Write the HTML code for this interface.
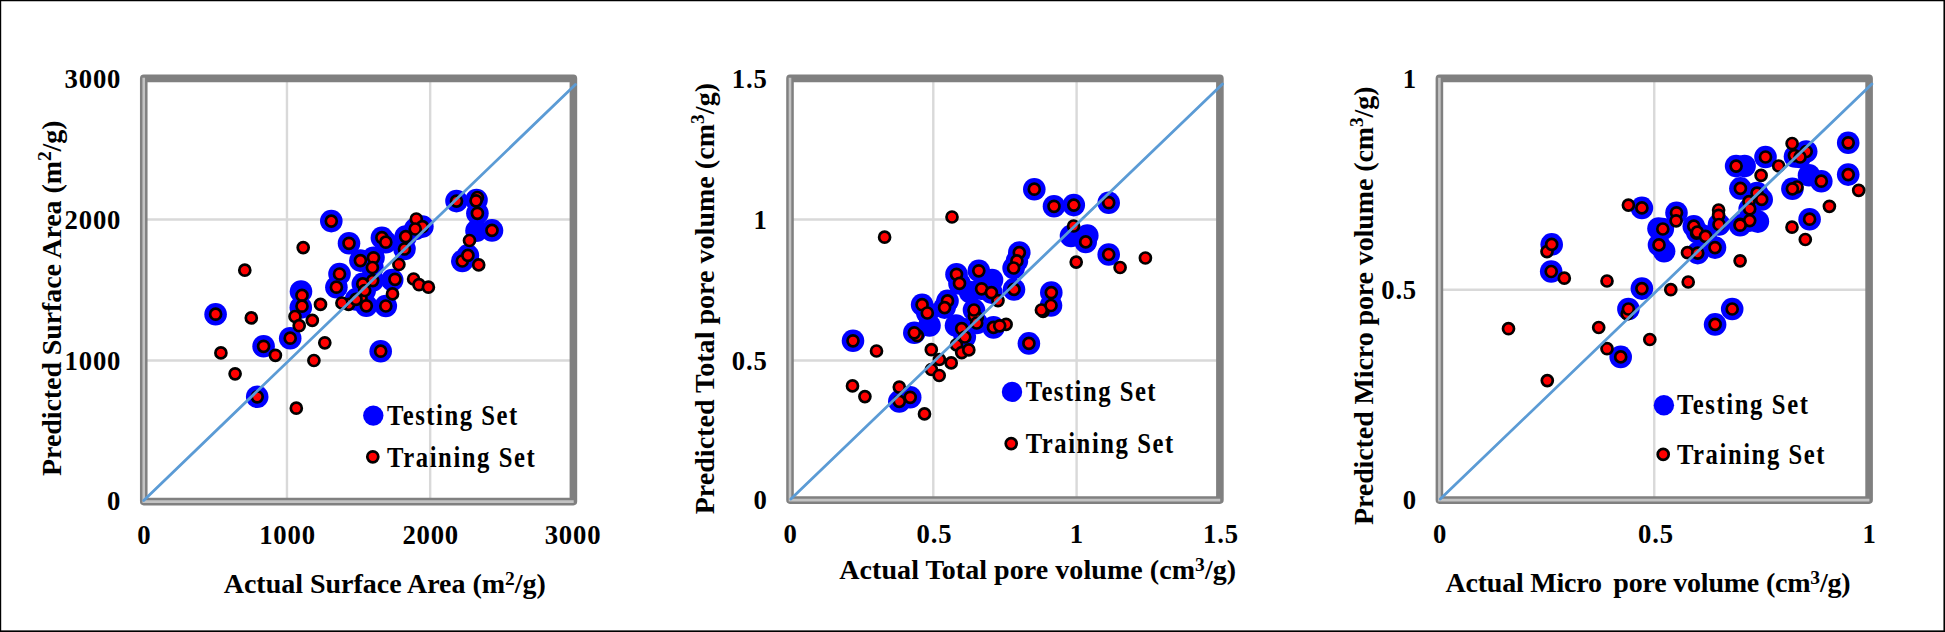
<!DOCTYPE html>
<html><head><meta charset="utf-8"><title>Predicted vs Actual</title>
<style>
html,body{margin:0;padding:0;background:#fff;}
body{width:1945px;height:632px;overflow:hidden;}
svg{display:block;}
text{font-family:"Liberation Serif","Times New Roman",serif;font-weight:bold;fill:#000;white-space:pre;}
.k{font-size:26.7px;letter-spacing:0.8px;}
.t{font-size:28px;}
.l{font-size:29.4px;}
.s{font-size:19.5px;}
.b{fill:#0000ff;}
.r{fill:#ff0000;stroke:#000;stroke-width:2.7;}
.g{stroke:#d9d9d9;stroke-width:2.4;}
</style></head><body>
<svg width="1945" height="632" viewBox="0 0 1945 632">
<rect x="0" y="0" width="1945" height="632" fill="#fff"/>
<g>
<line class="g" x1="286.97" y1="78.40" x2="286.97" y2="501.60"/>
<line class="g" x1="430.18" y1="78.40" x2="430.18" y2="501.60"/>
<line class="g" x1="143.75" y1="360.53" x2="573.40" y2="360.53"/>
<line class="g" x1="143.75" y1="219.47" x2="573.40" y2="219.47"/>
<rect x="143.75" y="78.40" width="429.65" height="423.20" fill="none" stroke="#808080" stroke-width="7.6" stroke-linejoin="round"/>
<path d="M143.75 77.80 V501.60 H573.70" fill="none" stroke="#c3c3c3" stroke-width="2.6"/>
<circle class="b" cx="331.3" cy="221.1" r="11.3"/>
<circle class="b" cx="349.0" cy="243.3" r="11.3"/>
<circle class="b" cx="360.4" cy="260.6" r="11.3"/>
<circle class="b" cx="373.5" cy="257.8" r="11.3"/>
<circle class="b" cx="372.4" cy="267.5" r="11.3"/>
<circle class="b" cx="339.5" cy="274.0" r="11.3"/>
<circle class="b" cx="336.4" cy="287.2" r="11.3"/>
<circle class="b" cx="381.9" cy="237.7" r="11.3"/>
<circle class="b" cx="385.8" cy="242.2" r="11.3"/>
<circle class="b" cx="405.7" cy="236.6" r="11.3"/>
<circle class="b" cx="404.5" cy="249.0" r="11.3"/>
<circle class="b" cx="415.2" cy="229.0" r="11.3"/>
<circle class="b" cx="422.4" cy="226.6" r="11.3"/>
<circle class="b" cx="392.2" cy="280.0" r="11.3"/>
<circle class="b" cx="372.7" cy="280.6" r="11.3"/>
<circle class="b" cx="362.8" cy="283.9" r="11.3"/>
<circle class="b" cx="364.7" cy="290.5" r="11.3"/>
<circle class="b" cx="385.8" cy="306.0" r="11.3"/>
<circle class="b" cx="366.3" cy="305.8" r="11.3"/>
<circle class="b" cx="356.0" cy="299.4" r="11.3"/>
<circle class="b" cx="456.5" cy="201.1" r="11.3"/>
<circle class="b" cx="476.5" cy="200.0" r="11.3"/>
<circle class="b" cx="477.4" cy="213.3" r="11.3"/>
<circle class="b" cx="492.0" cy="230.4" r="11.3"/>
<circle class="b" cx="476.5" cy="230.8" r="11.3"/>
<circle class="b" cx="467.9" cy="255.4" r="11.3"/>
<circle class="b" cx="462.3" cy="261.0" r="11.3"/>
<circle class="b" cx="215.6" cy="314.2" r="11.3"/>
<circle class="b" cx="263.6" cy="346.3" r="11.3"/>
<circle class="b" cx="290.2" cy="338.2" r="11.3"/>
<circle class="b" cx="257.2" cy="396.8" r="11.3"/>
<circle class="b" cx="380.7" cy="351.2" r="11.3"/>
<circle class="b" cx="301.0" cy="291.5" r="11.3"/>
<circle class="b" cx="300.8" cy="307.5" r="11.3"/>
<circle class="r" cx="303.2" cy="247.6" r="5.5"/>
<circle class="r" cx="244.8" cy="270.2" r="5.5"/>
<circle class="r" cx="251.3" cy="317.9" r="5.5"/>
<circle class="r" cx="320.5" cy="304.4" r="5.5"/>
<circle class="r" cx="295.0" cy="316.5" r="5.5"/>
<circle class="r" cx="312.3" cy="320.4" r="5.5"/>
<circle class="r" cx="299.2" cy="325.7" r="5.5"/>
<circle class="r" cx="416.3" cy="219.0" r="5.5"/>
<circle class="r" cx="398.9" cy="264.5" r="5.5"/>
<circle class="r" cx="392.5" cy="293.9" r="5.5"/>
<circle class="r" cx="413.6" cy="279.0" r="5.5"/>
<circle class="r" cx="419.0" cy="284.7" r="5.5"/>
<circle class="r" cx="428.4" cy="287.2" r="5.5"/>
<circle class="r" cx="348.6" cy="304.3" r="5.5"/>
<circle class="r" cx="341.9" cy="303.0" r="5.5"/>
<circle class="r" cx="469.5" cy="240.5" r="5.5"/>
<circle class="r" cx="478.7" cy="264.9" r="5.5"/>
<circle class="r" cx="220.9" cy="352.9" r="5.5"/>
<circle class="r" cx="235.1" cy="373.8" r="5.5"/>
<circle class="r" cx="275.4" cy="355.3" r="5.5"/>
<circle class="r" cx="296.3" cy="408.2" r="5.5"/>
<circle class="r" cx="313.9" cy="360.5" r="5.5"/>
<circle class="r" cx="324.8" cy="342.8" r="5.5"/>
<circle class="r" cx="361.0" cy="298.0" r="5.5"/>
<circle class="r" cx="477.4" cy="197.5" r="5.5"/>
<circle class="r" cx="331.3" cy="221.1" r="5.5"/>
<circle class="r" cx="349.0" cy="243.3" r="5.5"/>
<circle class="r" cx="360.4" cy="260.6" r="5.5"/>
<circle class="r" cx="373.5" cy="257.8" r="5.5"/>
<circle class="r" cx="372.4" cy="267.5" r="5.5"/>
<circle class="r" cx="339.5" cy="274.0" r="5.5"/>
<circle class="r" cx="336.4" cy="287.2" r="5.5"/>
<circle class="r" cx="381.9" cy="237.7" r="5.5"/>
<circle class="r" cx="385.8" cy="242.2" r="5.5"/>
<circle class="r" cx="405.7" cy="236.6" r="5.5"/>
<circle class="r" cx="404.5" cy="249.0" r="5.5"/>
<circle class="r" cx="422.4" cy="226.6" r="5.5"/>
<circle class="r" cx="415.2" cy="229.0" r="5.5"/>
<circle class="r" cx="395.0" cy="279.3" r="5.5"/>
<circle class="r" cx="372.7" cy="280.6" r="5.5"/>
<circle class="r" cx="362.8" cy="283.9" r="5.5"/>
<circle class="r" cx="364.7" cy="290.5" r="5.5"/>
<circle class="r" cx="385.8" cy="306.0" r="5.5"/>
<circle class="r" cx="366.3" cy="305.8" r="5.5"/>
<circle class="r" cx="356.0" cy="299.4" r="5.5"/>
<circle class="r" cx="456.5" cy="201.1" r="5.5"/>
<circle class="r" cx="476.1" cy="200.8" r="5.5"/>
<circle class="r" cx="477.4" cy="213.3" r="5.5"/>
<circle class="r" cx="492.0" cy="230.4" r="5.5"/>
<circle class="r" cx="462.3" cy="261.0" r="5.5"/>
<circle class="r" cx="467.9" cy="255.4" r="5.5"/>
<circle class="r" cx="215.6" cy="314.2" r="5.5"/>
<circle class="r" cx="263.6" cy="346.3" r="5.5"/>
<circle class="r" cx="290.2" cy="338.2" r="5.5"/>
<circle class="r" cx="257.2" cy="396.8" r="5.5"/>
<circle class="r" cx="380.7" cy="351.2" r="5.5"/>
<circle class="r" cx="302.0" cy="295.4" r="5.5"/>
<circle class="r" cx="302.0" cy="306.2" r="5.5"/>
<line x1="143.7" y1="500.4" x2="575.5" y2="84.5" stroke="#5b9bd5" stroke-width="2.8" stroke-linecap="round"/>
<circle class="b" cx="373.3" cy="415.6" r="10.2"/>
<circle class="r" cx="372.8" cy="456.8" r="5.5"/>
<text class="k" x="144.4" y="544.0" text-anchor="middle">0</text>
<text class="k" x="287.5" y="544.0" text-anchor="middle">1000</text>
<text class="k" x="430.7" y="544.0" text-anchor="middle">2000</text>
<text class="k" x="573.0" y="544.0" text-anchor="middle">3000</text>
<text class="k" x="121.2" y="88.1" text-anchor="end">3000</text>
<text class="k" x="121.2" y="228.8" text-anchor="end">2000</text>
<text class="k" x="121.2" y="369.6" text-anchor="end">1000</text>
<text class="k" x="121.2" y="510.4" text-anchor="end">0</text>
<text class="t" x="223.7" y="592.8" text-anchor="start" textLength="322.2" lengthAdjust="spacing">Actual Surface Area (m<tspan class="s" dy="-7.8">2</tspan><tspan dy="7.8">/g)</tspan></text>
<text class="t" transform="translate(60.6 475.9) rotate(-90)" text-anchor="start" textLength="355.4" lengthAdjust="spacing">Predicted Surface Area (m<tspan class="s" dy="-10.0">2</tspan><tspan dy="10.0">/g)</tspan></text>
<text class="l" transform="translate(387.1 424.6) scale(0.84 1)" textLength="154.8" lengthAdjust="spacing">Testing Set</text>
<text class="l" transform="translate(387.1 466.6) scale(0.84 1)" textLength="175.8" lengthAdjust="spacing">Training Set</text>
</g>
<g>
<line class="g" x1="933.30" y1="78.40" x2="933.30" y2="500.10"/>
<line class="g" x1="1076.60" y1="78.40" x2="1076.60" y2="500.10"/>
<line class="g" x1="790.00" y1="360.50" x2="1219.90" y2="360.50"/>
<line class="g" x1="790.00" y1="219.50" x2="1219.90" y2="219.50"/>
<rect x="790.00" y="78.40" width="429.90" height="421.70" fill="none" stroke="#808080" stroke-width="7.6" stroke-linejoin="round"/>
<path d="M790.00 77.80 V500.10 H1220.20" fill="none" stroke="#c3c3c3" stroke-width="2.6"/>
<circle class="b" cx="853.0" cy="340.8" r="11.3"/>
<circle class="b" cx="899.3" cy="401.4" r="11.3"/>
<circle class="b" cx="910.2" cy="397.3" r="11.3"/>
<circle class="b" cx="914.3" cy="332.8" r="11.3"/>
<circle class="b" cx="922.1" cy="304.7" r="11.3"/>
<circle class="b" cx="927.3" cy="313.0" r="11.3"/>
<circle class="b" cx="929.5" cy="325.5" r="11.3"/>
<circle class="b" cx="944.6" cy="307.6" r="11.3"/>
<circle class="b" cx="961.7" cy="328.7" r="11.3"/>
<circle class="b" cx="964.8" cy="337.0" r="11.3"/>
<circle class="b" cx="974.0" cy="310.0" r="11.3"/>
<circle class="b" cx="956.5" cy="274.3" r="11.3"/>
<circle class="b" cx="959.5" cy="283.4" r="11.3"/>
<circle class="b" cx="978.8" cy="270.8" r="11.3"/>
<circle class="b" cx="981.6" cy="288.8" r="11.3"/>
<circle class="b" cx="991.4" cy="292.6" r="11.3"/>
<circle class="b" cx="976.7" cy="323.0" r="11.3"/>
<circle class="b" cx="993.5" cy="327.4" r="11.3"/>
<circle class="b" cx="956.0" cy="325.5" r="11.3"/>
<circle class="b" cx="1034.3" cy="189.2" r="11.3"/>
<circle class="b" cx="1054.0" cy="206.3" r="11.3"/>
<circle class="b" cx="1073.8" cy="205.1" r="11.3"/>
<circle class="b" cx="1071.0" cy="236.0" r="11.3"/>
<circle class="b" cx="1085.7" cy="241.9" r="11.3"/>
<circle class="b" cx="1087.3" cy="235.5" r="11.3"/>
<circle class="b" cx="1019.3" cy="252.6" r="11.3"/>
<circle class="b" cx="1016.9" cy="260.9" r="11.3"/>
<circle class="b" cx="1013.6" cy="268.0" r="11.3"/>
<circle class="b" cx="1014.0" cy="289.4" r="11.3"/>
<circle class="b" cx="1051.3" cy="292.6" r="11.3"/>
<circle class="b" cx="1051.0" cy="305.5" r="11.3"/>
<circle class="b" cx="1108.7" cy="202.7" r="11.3"/>
<circle class="b" cx="1108.7" cy="254.5" r="11.3"/>
<circle class="b" cx="1028.9" cy="343.4" r="11.3"/>
<circle class="b" cx="947.5" cy="300.9" r="11.3"/>
<circle class="b" cx="970.0" cy="292.0" r="11.3"/>
<circle class="b" cx="992.0" cy="280.0" r="11.3"/>
<circle class="r" cx="876.5" cy="351.0" r="5.5"/>
<circle class="r" cx="852.5" cy="385.9" r="5.5"/>
<circle class="r" cx="864.9" cy="396.6" r="5.5"/>
<circle class="r" cx="899.3" cy="387.1" r="5.5"/>
<circle class="r" cx="924.5" cy="413.9" r="5.5"/>
<circle class="r" cx="931.3" cy="349.7" r="5.5"/>
<circle class="r" cx="939.4" cy="359.5" r="5.5"/>
<circle class="r" cx="931.4" cy="369.5" r="5.5"/>
<circle class="r" cx="939.2" cy="375.5" r="5.5"/>
<circle class="r" cx="951.2" cy="362.9" r="5.5"/>
<circle class="r" cx="917.3" cy="335.6" r="5.5"/>
<circle class="r" cx="956.5" cy="344.9" r="5.5"/>
<circle class="r" cx="961.7" cy="352.6" r="5.5"/>
<circle class="r" cx="968.8" cy="349.9" r="5.5"/>
<circle class="r" cx="977.2" cy="317.8" r="5.5"/>
<circle class="r" cx="947.5" cy="300.9" r="5.5"/>
<circle class="r" cx="998.0" cy="300.6" r="5.5"/>
<circle class="r" cx="974.4" cy="315.9" r="5.5"/>
<circle class="r" cx="1006.1" cy="324.4" r="5.5"/>
<circle class="r" cx="952.0" cy="217.0" r="5.5"/>
<circle class="r" cx="884.6" cy="237.2" r="5.5"/>
<circle class="r" cx="1073.6" cy="226.0" r="5.5"/>
<circle class="r" cx="1076.2" cy="262.1" r="5.5"/>
<circle class="r" cx="1120.1" cy="267.5" r="5.5"/>
<circle class="r" cx="1145.4" cy="258.0" r="5.5"/>
<circle class="r" cx="1043.1" cy="311.3" r="5.5"/>
<circle class="r" cx="1041.4" cy="310.0" r="5.5"/>
<circle class="r" cx="853.0" cy="340.8" r="5.5"/>
<circle class="r" cx="899.3" cy="401.4" r="5.5"/>
<circle class="r" cx="910.2" cy="397.3" r="5.5"/>
<circle class="r" cx="914.3" cy="332.8" r="5.5"/>
<circle class="r" cx="922.1" cy="304.7" r="5.5"/>
<circle class="r" cx="927.3" cy="313.0" r="5.5"/>
<circle class="r" cx="944.6" cy="307.6" r="5.5"/>
<circle class="r" cx="961.7" cy="328.7" r="5.5"/>
<circle class="r" cx="964.8" cy="337.0" r="5.5"/>
<circle class="r" cx="974.0" cy="310.0" r="5.5"/>
<circle class="r" cx="956.5" cy="274.3" r="5.5"/>
<circle class="r" cx="959.5" cy="283.4" r="5.5"/>
<circle class="r" cx="978.8" cy="270.8" r="5.5"/>
<circle class="r" cx="981.6" cy="288.8" r="5.5"/>
<circle class="r" cx="991.4" cy="292.6" r="5.5"/>
<circle class="r" cx="976.7" cy="323.0" r="5.5"/>
<circle class="r" cx="993.5" cy="327.4" r="5.5"/>
<circle class="r" cx="1034.3" cy="189.2" r="5.5"/>
<circle class="r" cx="1054.0" cy="206.3" r="5.5"/>
<circle class="r" cx="1073.8" cy="205.1" r="5.5"/>
<circle class="r" cx="1085.7" cy="241.9" r="5.5"/>
<circle class="r" cx="1019.3" cy="252.6" r="5.5"/>
<circle class="r" cx="1016.9" cy="260.9" r="5.5"/>
<circle class="r" cx="1013.6" cy="268.0" r="5.5"/>
<circle class="r" cx="1014.0" cy="289.4" r="5.5"/>
<circle class="r" cx="1051.3" cy="292.6" r="5.5"/>
<circle class="r" cx="1051.0" cy="305.5" r="5.5"/>
<circle class="r" cx="1108.7" cy="202.7" r="5.5"/>
<circle class="r" cx="1108.7" cy="254.5" r="5.5"/>
<circle class="r" cx="1028.9" cy="343.4" r="5.5"/>
<circle class="r" cx="999.7" cy="325.8" r="5.5"/>
<line x1="790.9" y1="499.1" x2="1222.5" y2="83.9" stroke="#5b9bd5" stroke-width="2.8" stroke-linecap="round"/>
<circle class="b" cx="1012.0" cy="391.9" r="10.2"/>
<circle class="r" cx="1011.2" cy="443.6" r="5.5"/>
<text class="k" x="790.6" y="543.0" text-anchor="middle">0</text>
<text class="k" x="934.5" y="543.0" text-anchor="middle">0.5</text>
<text class="k" x="1076.8" y="543.0" text-anchor="middle">1</text>
<text class="k" x="1220.9" y="543.0" text-anchor="middle">1.5</text>
<text class="k" x="767.6" y="88.1" text-anchor="end">1.5</text>
<text class="k" x="767.6" y="229.0" text-anchor="end">1</text>
<text class="k" x="767.6" y="369.5" text-anchor="end">0.5</text>
<text class="k" x="767.6" y="509.2" text-anchor="end">0</text>
<text class="t" x="839.3" y="578.9" text-anchor="start" textLength="396.8" lengthAdjust="spacing">Actual Total pore volume (cm<tspan class="s" dy="-7.8">3</tspan><tspan dy="7.8">/g)</tspan></text>
<text class="t" transform="translate(714.3 514.3) rotate(-90)" text-anchor="start" textLength="431.3" lengthAdjust="spacing">Predicted Total pore volume (cm<tspan class="s" dy="-10.0">3</tspan><tspan dy="10.0">/g)</tspan></text>
<text class="l" transform="translate(1025.7 401.1) scale(0.84 1)" textLength="154.6" lengthAdjust="spacing">Testing Set</text>
<text class="l" transform="translate(1025.7 452.5) scale(0.84 1)" textLength="175.5" lengthAdjust="spacing">Training Set</text>
</g>
<g>
<line class="g" x1="1654.25" y1="78.40" x2="1654.25" y2="500.10"/>
<line class="g" x1="1439.40" y1="289.80" x2="1869.10" y2="289.80"/>
<rect x="1439.40" y="78.40" width="429.70" height="421.70" fill="none" stroke="#808080" stroke-width="7.6" stroke-linejoin="round"/>
<path d="M1439.40 77.80 V500.10 H1869.40" fill="none" stroke="#c3c3c3" stroke-width="2.6"/>
<circle class="b" cx="1551.7" cy="244.4" r="11.3"/>
<circle class="b" cx="1551.2" cy="271.5" r="11.3"/>
<circle class="b" cx="1628.4" cy="309.0" r="11.3"/>
<circle class="b" cx="1620.7" cy="356.9" r="11.3"/>
<circle class="b" cx="1641.9" cy="207.9" r="11.3"/>
<circle class="b" cx="1641.9" cy="288.6" r="11.3"/>
<circle class="b" cx="1662.8" cy="229.0" r="11.3"/>
<circle class="b" cx="1659.0" cy="244.9" r="11.3"/>
<circle class="b" cx="1664.1" cy="251.2" r="11.3"/>
<circle class="b" cx="1676.5" cy="212.8" r="11.3"/>
<circle class="b" cx="1693.8" cy="226.2" r="11.3"/>
<circle class="b" cx="1697.3" cy="232.2" r="11.3"/>
<circle class="b" cx="1705.5" cy="236.4" r="11.3"/>
<circle class="b" cx="1715.0" cy="247.6" r="11.3"/>
<circle class="b" cx="1697.7" cy="253.1" r="11.3"/>
<circle class="b" cx="1719.0" cy="224.5" r="11.3"/>
<circle class="b" cx="1736.1" cy="166.1" r="11.3"/>
<circle class="b" cx="1744.6" cy="166.1" r="11.3"/>
<circle class="b" cx="1765.5" cy="157.0" r="11.3"/>
<circle class="b" cx="1740.4" cy="188.4" r="11.3"/>
<circle class="b" cx="1757.0" cy="193.1" r="11.3"/>
<circle class="b" cx="1761.7" cy="199.4" r="11.3"/>
<circle class="b" cx="1749.7" cy="208.9" r="11.3"/>
<circle class="b" cx="1749.7" cy="220.6" r="11.3"/>
<circle class="b" cx="1757.9" cy="221.6" r="11.3"/>
<circle class="b" cx="1740.1" cy="225.2" r="11.3"/>
<circle class="b" cx="1806.2" cy="151.5" r="11.3"/>
<circle class="b" cx="1800.0" cy="157.0" r="11.3"/>
<circle class="b" cx="1792.4" cy="188.8" r="11.3"/>
<circle class="b" cx="1809.6" cy="219.2" r="11.3"/>
<circle class="b" cx="1809.0" cy="175.3" r="11.3"/>
<circle class="b" cx="1821.3" cy="181.2" r="11.3"/>
<circle class="b" cx="1848.2" cy="142.8" r="11.3"/>
<circle class="b" cx="1848.2" cy="174.6" r="11.3"/>
<circle class="b" cx="1732.2" cy="309.0" r="11.3"/>
<circle class="b" cx="1715.1" cy="324.4" r="11.3"/>
<circle class="b" cx="1658.5" cy="228.5" r="11.3"/>
<circle class="b" cx="1795.0" cy="156.5" r="11.3"/>
<circle class="r" cx="1547.0" cy="251.6" r="5.5"/>
<circle class="r" cx="1564.3" cy="278.2" r="5.5"/>
<circle class="r" cx="1607.0" cy="281.0" r="5.5"/>
<circle class="r" cx="1508.5" cy="328.7" r="5.5"/>
<circle class="r" cx="1598.7" cy="327.5" r="5.5"/>
<circle class="r" cx="1627.2" cy="313.8" r="5.5"/>
<circle class="r" cx="1607.0" cy="348.7" r="5.5"/>
<circle class="r" cx="1547.3" cy="380.6" r="5.5"/>
<circle class="r" cx="1649.8" cy="339.5" r="5.5"/>
<circle class="r" cx="1628.4" cy="205.1" r="5.5"/>
<circle class="r" cx="1687.5" cy="252.6" r="5.5"/>
<circle class="r" cx="1718.6" cy="210.0" r="5.5"/>
<circle class="r" cx="1718.6" cy="215.3" r="5.5"/>
<circle class="r" cx="1688.2" cy="282.0" r="5.5"/>
<circle class="r" cx="1670.8" cy="289.7" r="5.5"/>
<circle class="r" cx="1778.7" cy="166.0" r="5.5"/>
<circle class="r" cx="1761.1" cy="175.4" r="5.5"/>
<circle class="r" cx="1749.0" cy="201.6" r="5.5"/>
<circle class="r" cx="1740.3" cy="224.4" r="5.5"/>
<circle class="r" cx="1792.1" cy="143.5" r="5.5"/>
<circle class="r" cx="1794.4" cy="155.6" r="5.5"/>
<circle class="r" cx="1797.0" cy="187.0" r="5.5"/>
<circle class="r" cx="1792.0" cy="227.2" r="5.5"/>
<circle class="r" cx="1805.3" cy="239.5" r="5.5"/>
<circle class="r" cx="1858.7" cy="190.3" r="5.5"/>
<circle class="r" cx="1829.4" cy="206.3" r="5.5"/>
<circle class="r" cx="1740.1" cy="260.8" r="5.5"/>
<circle class="r" cx="1696.6" cy="233.1" r="5.5"/>
<circle class="r" cx="1551.7" cy="244.4" r="5.5"/>
<circle class="r" cx="1551.2" cy="271.5" r="5.5"/>
<circle class="r" cx="1628.4" cy="309.0" r="5.5"/>
<circle class="r" cx="1620.7" cy="356.9" r="5.5"/>
<circle class="r" cx="1641.9" cy="207.9" r="5.5"/>
<circle class="r" cx="1641.9" cy="288.6" r="5.5"/>
<circle class="r" cx="1662.8" cy="229.0" r="5.5"/>
<circle class="r" cx="1659.0" cy="244.9" r="5.5"/>
<circle class="r" cx="1676.5" cy="212.8" r="5.5"/>
<circle class="r" cx="1693.8" cy="226.2" r="5.5"/>
<circle class="r" cx="1697.3" cy="232.2" r="5.5"/>
<circle class="r" cx="1705.5" cy="236.4" r="5.5"/>
<circle class="r" cx="1715.0" cy="247.6" r="5.5"/>
<circle class="r" cx="1697.7" cy="253.1" r="5.5"/>
<circle class="r" cx="1719.0" cy="224.5" r="5.5"/>
<circle class="r" cx="1736.1" cy="166.1" r="5.5"/>
<circle class="r" cx="1765.5" cy="157.0" r="5.5"/>
<circle class="r" cx="1740.4" cy="188.4" r="5.5"/>
<circle class="r" cx="1757.0" cy="193.1" r="5.5"/>
<circle class="r" cx="1761.7" cy="199.4" r="5.5"/>
<circle class="r" cx="1749.7" cy="208.9" r="5.5"/>
<circle class="r" cx="1749.7" cy="220.6" r="5.5"/>
<circle class="r" cx="1740.1" cy="225.2" r="5.5"/>
<circle class="r" cx="1806.2" cy="151.5" r="5.5"/>
<circle class="r" cx="1800.0" cy="157.0" r="5.5"/>
<circle class="r" cx="1792.4" cy="188.8" r="5.5"/>
<circle class="r" cx="1809.6" cy="219.2" r="5.5"/>
<circle class="r" cx="1821.3" cy="181.2" r="5.5"/>
<circle class="r" cx="1848.2" cy="142.8" r="5.5"/>
<circle class="r" cx="1848.2" cy="174.6" r="5.5"/>
<circle class="r" cx="1732.2" cy="309.0" r="5.5"/>
<circle class="r" cx="1715.1" cy="324.4" r="5.5"/>
<circle class="r" cx="1676.1" cy="220.8" r="5.5"/>
<line x1="1440.3" y1="499.1" x2="1871.9" y2="83.9" stroke="#5b9bd5" stroke-width="2.8" stroke-linecap="round"/>
<circle class="b" cx="1663.9" cy="405.3" r="10.2"/>
<circle class="r" cx="1663.2" cy="454.4" r="5.5"/>
<text class="k" x="1440.0" y="542.9" text-anchor="middle">0</text>
<text class="k" x="1655.9" y="542.9" text-anchor="middle">0.5</text>
<text class="k" x="1869.5" y="542.9" text-anchor="middle">1</text>
<text class="k" x="1417.0" y="87.5" text-anchor="end">1</text>
<text class="k" x="1417.0" y="299.2" text-anchor="end">0.5</text>
<text class="k" x="1417.0" y="508.9" text-anchor="end">0</text>
<text class="t" x="1445.4" y="591.7" text-anchor="start" textLength="405.2" lengthAdjust="spacing">Actual Micro <tspan dx="4.7">pore</tspan> volume (cm<tspan class="s" dy="-7.8">3</tspan><tspan dy="7.8">/g)</tspan></text>
<text class="t" transform="translate(1373.2 525.0) rotate(-90)" text-anchor="start" textLength="438.5" lengthAdjust="spacing">Predicted Micro pore volume (cm<tspan class="s" dy="-10.0">3</tspan><tspan dy="10.0">/g)</tspan></text>
<text class="l" transform="translate(1676.9 413.8) scale(0.84 1)" textLength="156.0" lengthAdjust="spacing">Testing Set</text>
<text class="l" transform="translate(1676.9 464.4) scale(0.84 1)" textLength="175.8" lengthAdjust="spacing">Training Set</text>
</g>
<path d="M0.6 0.6 H1944.40 V631.40 H0.6 Z" fill="none" stroke="#000" stroke-width="1.2"/>
<path d="M1944.28 0 V631.28 H0" fill="none" stroke="#000" stroke-width="1.45"/>
</svg></body></html>
